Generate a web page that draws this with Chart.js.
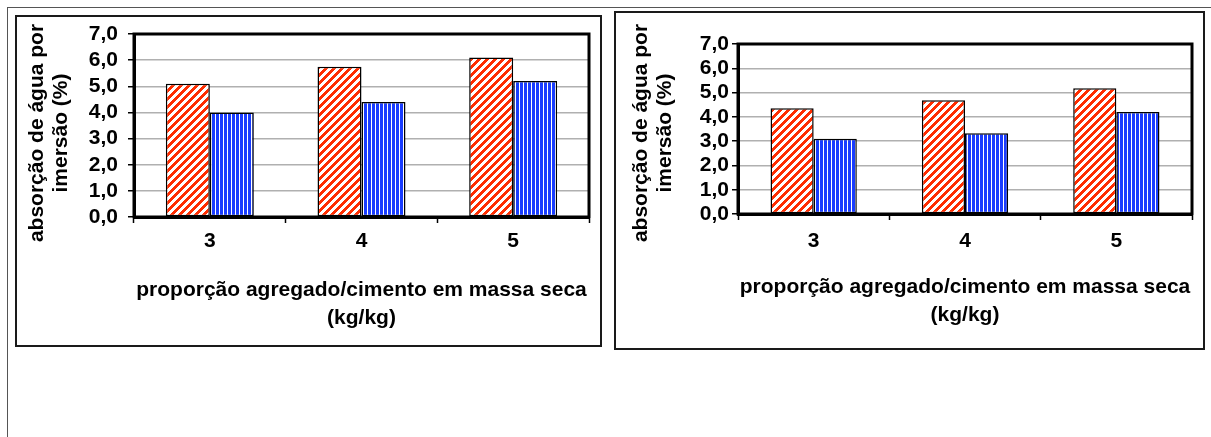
<!DOCTYPE html>
<html>
<head>
<meta charset="utf-8">
<script src="https://cdn.jsdelivr.net/npm/chart.js@4.4.1/dist/chart.umd.min.js"></script>
<style>
  html, body { margin: 0; padding: 0; background: #fff; width: 1211px; height: 437px; overflow: hidden; }
  .frame { position: absolute; left: 7px; top: 7px; width: 1230px; height: 460px;
           border-top: 1px solid #555; border-left: 1px solid #555; }
  .box { position: absolute; border: 2px solid #1a1a1a; }
  #boxL { left: 15px; top: 15px; width: 583px; height: 328px; }
  #boxR { left: 614px; top: 11px; width: 587px; height: 335px; }
  canvas { position: absolute; left: 0; top: 0; }
</style>
</head>
<body>
<div class="frame"></div>
<div class="box" id="boxL"></div>
<div class="box" id="boxR"></div>
<canvas id="chartL" width="1211" height="437"></canvas>
<canvas id="chartR" width="1211" height="437"></canvas>
<script>
// Aggregate/cement ratio (kg/kg)
const categories = ['3', '4', '5'];

// Water absorption by immersion (%) — left panel
const leftHatched = [5.1, 5.75, 6.1];
const leftStriped = [4.0, 4.4, 5.2];

// Water absorption by immersion (%) — right panel
const rightHatched = [4.35, 4.68, 5.18];
const rightStriped = [3.1, 3.32, 4.2];

// Value axis range
const yMin = 0;
const yMax = 7;
const yStep = 1;

const yTitleLines = ['absorção de água por', 'imersão (%)'];
const xTitleLines = ['proporção agregado/cimento em massa seca', '(kg/kg)'];

const FONT = "'Liberation Sans', Arial, sans-serif";

// Pixel patterns for the bar fills
function makePattern(w, h, colorAt) {
  const c = document.createElement('canvas');
  c.width = w; c.height = h;
  const g = c.getContext('2d');
  const img = g.createImageData(w, h);
  for (let y = 0; y < h; y++) {
    for (let x = 0; x < w; x++) {
      const col = colorAt(x, y);
      const i = (y * w + x) * 4;
      img.data[i] = col[0]; img.data[i + 1] = col[1]; img.data[i + 2] = col[2]; img.data[i + 3] = 255;
    }
  }
  g.putImageData(img, 0, 0);
  return g.createPattern(c, 'repeat');
}
const RED = [255, 45, 0], BLUE = [25, 60, 255], WHITE = [255, 255, 255];
const diagPattern = () => makePattern(8, 8, (x, y) => ((x + y) % 8) < 4 ? RED : WHITE);
const vertPattern = () => makePattern(4, 1, (x) => x < 3 ? BLUE : WHITE);

// Heavy frame round the plot area
const plotFrame = {
  id: 'plotFrame',
  afterDraw(chart) {
    const { ctx, chartArea: a } = chart;
    ctx.save();
    ctx.strokeStyle = '#000';
    ctx.lineWidth = 3;
    ctx.strokeRect(a.left, a.top, a.right - a.left, a.bottom - a.top);
    ctx.restore();
  }
};

// Two-line rotated value-axis title
const sideTitle = {
  id: 'sideTitle',
  afterDraw(chart, args, opts) {
    const ctx = chart.ctx;
    ctx.save();
    ctx.font = `bold ${opts.size}px ${FONT}`;
    ctx.fillStyle = '#000';
    ctx.textAlign = 'center';
    ctx.textBaseline = 'middle';
    opts.lines.forEach((line, i) => {
      ctx.save();
      ctx.translate(opts.x + i * opts.gap, opts.y);
      ctx.rotate(-Math.PI / 2);
      ctx.fillText(line, 0, 0);
      ctx.restore();
    });
    ctx.restore();
  }
};

function buildChart(id, hatched, striped, g) {
  const W = 1211, H = 437;
  const yW = 100, xH = 125;
  return new Chart(document.getElementById(id), {
    type: 'bar',
    data: {
      labels: categories,
      datasets: [
        { data: hatched, backgroundColor: diagPattern(), borderColor: '#000', borderWidth: 1.5, borderSkipped: false },
        { data: striped, backgroundColor: vertPattern(), borderColor: '#000', borderWidth: 1.5, borderSkipped: false }
      ]
    },
    options: {
      responsive: false,
      animation: false,
      devicePixelRatio: 1,
      events: [],
      layout: { padding: { left: g.l - yW, right: W - g.r, top: g.t, bottom: H - g.b - xH } },
      datasets: { bar: { categoryPercentage: g.cat, barPercentage: 1.0 } },
      plugins: {
        legend: { display: false },
        tooltip: { enabled: false },
        sideTitle: { lines: yTitleLines, x: g.tx, gap: 24, y: g.ty, size: 21 }
      },
      scales: {
        x: {
          afterFit(s) { s.height = xH; },
          offset: true,
          grid: { offset: true, drawOnChartArea: false, drawTicks: true, tickLength: 6, tickColor: '#000', tickWidth: 1.5 },
          border: { display: true, color: '#000', width: 3 },
          ticks: { color: '#000', padding: g.xpad, font: { family: FONT, size: 21, weight: 'bold' } },
          title: {
            display: true, text: xTitleLines, color: '#000',
            font: { family: FONT, size: 21, weight: 'bold', lineHeight: '28px' },
            padding: { top: 0, bottom: g.titlePad }
          }
        },
        y: {
          afterFit(s) { s.width = yW; },
          min: yMin, max: yMax,
          grid: { color: '#b0b0b0', lineWidth: 1.5, drawTicks: true, tickLength: 6, tickColor: '#000', tickWidth: 1.5 },
          border: { display: true, color: '#000', width: 3 },
          ticks: {
            stepSize: yStep, autoSkip: false, color: '#000', padding: g.ypad,
            font: { family: FONT, size: 21, weight: 'bold' },
            callback: (v) => Number(v).toFixed(1).replace('.', ',')
          }
        }
      }
    },
    plugins: [plotFrame, sideTitle]
  });
}

buildChart('chartL', leftHatched, leftStriped,
  { l: 134, r: 589, t: 34, b: 217, cat: 0.58, xpad: 6, ypad: 10, titlePad: 10, tx: 37, ty: 133 });
buildChart('chartR', rightHatched, rightStriped,
  { l: 738, r: 1192, t: 44, b: 214, cat: 0.57, xpad: 9, ypad: 3, titlePad: 10, tx: 641, ty: 133 });
</script>
</body>
</html>
